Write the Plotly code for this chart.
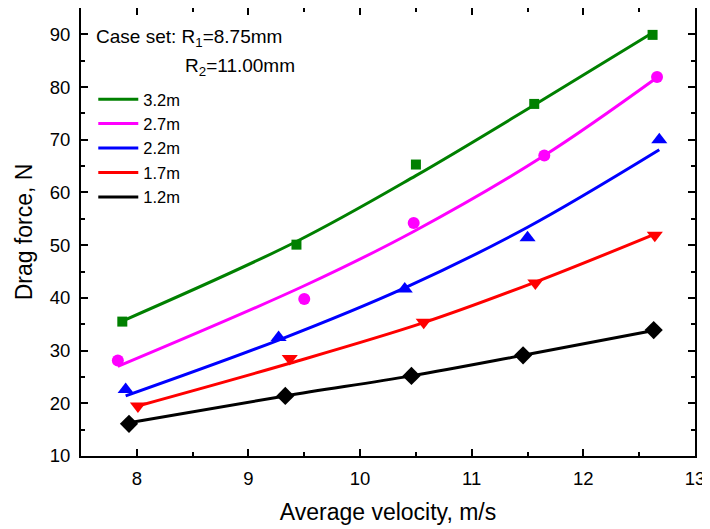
import plotly.graph_objects as go

# ---- data ----
labels = ["3.2m", "2.7m", "2.2m", "1.7m", "1.2m"]
colors = ["#008000", "#FF00FF", "#0000FF", "#FF0000", "#000000"]
symbols = ["square", "circle", "triangle-up", "triangle-down", "diamond"]
sizes = [10, 12, 14, 14, 14]

vel_32 = [7.87, 9.43, 10.50, 11.56, 12.62]
force_32 = [35.5, 50.1, 65.3, 76.8, 89.9]
fit_32 = [35.6, 50.7, 63.2, 76.6, 90.3]

vel_27 = [7.83, 9.50, 10.48, 11.65, 12.66]
force_27 = [28.1, 39.8, 54.2, 67.0, 81.9]
fit_27 = [27.0, 42.3, 52.6, 67.0, 81.8]

vel_22 = [7.90, 9.27, 10.40, 11.50, 12.68]
force_22 = [22.6, 32.5, 41.7, 51.4, 70.0]
fit_22 = [21.4, 32.0, 41.9, 53.4, 68.1]

vel_17 = [8.01, 9.37, 10.57, 11.57, 12.64]
force_17 = [19.5, 28.5, 35.4, 42.8, 51.9]
fit_17 = [19.5, 27.6, 35.3, 43.0, 52.1]

vel_12 = [7.93, 9.33, 10.46, 11.46, 12.63]
force_12 = [16.1, 21.4, 25.2, 29.1, 33.9]
fit_12 = [16.3, 21.4, 25.2, 29.1, 33.8]

vels = [vel_32, vel_27, vel_22, vel_17, vel_12]
forces = [force_32, force_27, force_22, force_17, force_12]
fits = [fit_32, fit_27, fit_22, fit_17, fit_12]

x_ticks = [8, 9, 10, 11, 12, 13]
y_ticks = [10, 20, 30, 40, 50, 60, 70, 80, 90]

FONT = "Liberation Sans, Arial, sans-serif"

fig = go.Figure()
for lab, col, sym, sz, v, f, ft in zip(labels, colors, symbols, sizes, vels, forces, fits):
    fig.add_trace(go.Scatter(
        x=v, y=ft, mode="lines", name=lab,
        line=dict(color=col, width=3, shape="spline", smoothing=1.0),
        showlegend=True,
    ))
    fig.add_trace(go.Scatter(
        x=v, y=f, mode="markers", name=lab,
        marker=dict(color=col, symbol=sym, size=sz, line=dict(width=0)),
        showlegend=False,
    ))

axis_common = dict(
    showline=True, linecolor="black", linewidth=2, mirror="allticks",
    ticks="inside", ticklen=7, tickwidth=2, tickcolor="black",
    showgrid=False, zeroline=False, automargin=False,
    tickfont=dict(family=FONT, size=18.5, color="black"),
)

fig.update_xaxes(
    range=[7.5, 13], tickvals=x_ticks, ticklabelstandoff=5,
    title=dict(text="Average velocity, m/s", font=dict(family=FONT, size=23, color="black"), standoff=16),
    minor=dict(ticks="inside", ticklen=4, tickwidth=2, tickcolor="black", dtick=0.5),
    **axis_common,
)
fig.update_yaxes(
    range=[10, 95], tickvals=y_ticks, ticklabelstandoff=5,
    title=dict(text="Drag force, N", font=dict(family=FONT, size=23, color="black"), standoff=11),
    minor=dict(ticks="inside", ticklen=4, tickwidth=2, tickcolor="black", dtick=5),
    **axis_common,
)

fig.add_annotation(
    xref="paper", yref="paper", x=0.021, y=0.933, xanchor="left", yanchor="middle",
    text="Case set: R<sub>1</sub>=8.75mm", showarrow=False,
    font=dict(family=FONT, size=19, color="black"),
)
fig.add_annotation(
    xref="paper", yref="paper", x=0.166, y=0.868, xanchor="left", yanchor="middle",
    text="R<sub>2</sub>=11.00mm", showarrow=False,
    font=dict(family=FONT, size=19, color="black"),
)

# page body has an 8px default margin, so the figure is sized to fit the window
fig.update_layout(
    width=702, height=521,
    margin=dict(l=73, r=15, t=0, b=73),
    plot_bgcolor="white", paper_bgcolor="white",
    legend=dict(
        x=0.02, y=0.835, xanchor="left", yanchor="top",
        bgcolor="rgba(0,0,0,0)", borderwidth=0,
        font=dict(family=FONT, size=16.5, color="black"),
        tracegroupgap=0, itemwidth=40,
    ),
)

fig.write_html("out.html")
